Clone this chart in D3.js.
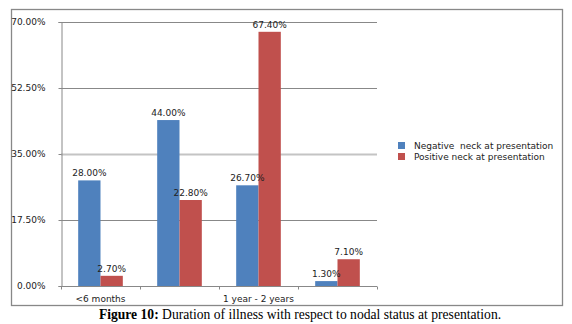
<!DOCTYPE html>
<html>
<head>
<meta charset="utf-8">
<script src="https://cdn.jsdelivr.net/npm/d3@7"></script>
<style>
    body { margin: 0; background: #fff; }
    svg text { font-family: "DejaVu Sans", sans-serif; font-size: 9px; fill: #222; }
    .caption { font-family: "Liberation Serif", "Times New Roman", serif; font-size: 13.6px; fill: #000; }
</style>
</head>
<body>
<svg id="chart"></svg>
<script>
let categories = ["<6 months", "6 months - 1 year", "1 year - 2 years", ">2 years"];
let series = ["Negative  neck at presentation", "Positive neck at presentation"];
let negative = [28.0, 44.0, 26.7, 1.3];
let positive = [2.7, 22.8, 67.4, 7.1];
let yTicks = [0, 17.5, 35, 52.5, 70];
let colors = ["#4f81bd", "#c0504d"];

let width = 572;
let height = 324;
let svg = d3.select("#chart").attr("width", width).attr("height", height);

let plot = { left: 61, right: 377, top: 22, bottom: 286 };

// outer frame
svg.append("rect")
    .attr("x", 11.5).attr("y", 9.5)
    .attr("width", 551).attr("height", 296)
    .attr("fill", "none")
    .attr("stroke", "#888")
    .attr("stroke-width", 1.3);

let x0 = d3.scaleBand()
    .domain(categories)
    .range([plot.left, plot.right])
    .paddingInner(0).paddingOuter(0);

let x1 = d3.scaleBand()
    .domain(series)
    .range([0, x0.bandwidth()])
    .paddingInner(0).paddingOuter(0.77);

let y = d3.scaleLinear()
    .domain([0, 70])
    .range([plot.bottom, plot.top]);

// gridlines
svg.append("g")
    .selectAll("line")
    .data(yTicks.filter(d => d > 0))
    .enter()
    .append("line")
        .attr("x1", plot.left)
        .attr("x2", plot.right)
        .attr("y1", d => Math.round(y(d)) + 0.5)
        .attr("y2", d => Math.round(y(d)) + 0.5)
        .attr("stroke", d => d == 35 ? "#c4c4c4" : "#888")
        .attr("stroke-width", d => d == 35 ? 2 : 1);

// y axis
let yAxis = svg.append("g")
    .attr("transform", `translate(${plot.left + 0.5},0)`)
    .call(d3.axisLeft(y)
        .tickValues(yTicks)
        .tickSize(3)
        .tickPadding(13)
        .tickFormat(d => d.toFixed(2) + "%"));
yAxis.select(".domain").attr("stroke", "#888");
yAxis.selectAll(".tick line").attr("stroke", "#888");
yAxis.selectAll("text").attr("font-family", null).attr("font-size", null);

// bars
let rows = categories.map((c, i) => ({ category: c, values: [negative[i], positive[i]] }));

let groups = svg.append("g")
    .selectAll("g")
    .data(rows)
    .enter()
    .append("g")
        .attr("transform", d => `translate(${x0(d.category)},0)`);

groups.selectAll("rect")
    .data(d => d.values.map((v, j) => ({ key: series[j], value: v, j: j })))
    .enter()
    .append("rect")
        .attr("x", d => x1(d.key))
        .attr("y", d => y(d.value))
        .attr("width", x1.bandwidth())
        .attr("height", d => plot.bottom - y(d.value))
        .attr("fill", d => colors[d.j]);

groups.selectAll("text")
    .data(d => d.values.map((v, j) => ({ key: series[j], value: v })))
    .enter()
    .append("text")
        .attr("x", d => x1(d.key) + x1.bandwidth() / 2)
        .attr("y", d => y(d.value) - 4)
        .attr("text-anchor", "middle")
        .text(d => d.value.toFixed(2) + "%");

// x axis: ticks on category boundaries, every other label shown
let xAxis = svg.append("g").attr("transform", `translate(0,${plot.bottom + 0.5})`);
xAxis.append("line")
    .attr("x1", plot.left).attr("x2", plot.right)
    .attr("stroke", "#888");
xAxis.selectAll(".tick")
    .data(categories.map(c => x0(c)).concat([plot.right]))
    .enter()
    .append("line")
        .attr("x1", d => Math.round(d) + 0.5)
        .attr("x2", d => Math.round(d) + 0.5)
        .attr("y1", 0).attr("y2", 3)
        .attr("stroke", "#888");
xAxis.selectAll("text")
    .data(categories.filter((c, i) => i % 2 == 0))
    .enter()
    .append("text")
        .attr("x", d => x0(d) + x0.bandwidth() / 2)
        .attr("y", 15)
        .attr("text-anchor", "middle")
        .text(d => d);

// legend
let legend = svg.append("g")
    .selectAll("g")
    .data(series)
    .enter()
    .append("g")
        .attr("transform", (d, i) => `translate(398,${142 + i * 11})`);
legend.append("rect")
    .attr("width", 7).attr("height", 7)
    .attr("fill", (d, i) => colors[i]);
legend.append("text")
    .attr("x", 16).attr("y", 7)
    .style("white-space", "pre")
    .text(d => d);

// caption
let caption = svg.append("text")
    .attr("class", "caption")
    .attr("x", 300).attr("y", 318.5)
    .attr("text-anchor", "middle");
caption.append("tspan").attr("font-weight", "bold").text("Figure 10:");
caption.append("tspan").text(" Duration of illness with respect to nodal status at presentation.");
</script>
</body>
</html>
